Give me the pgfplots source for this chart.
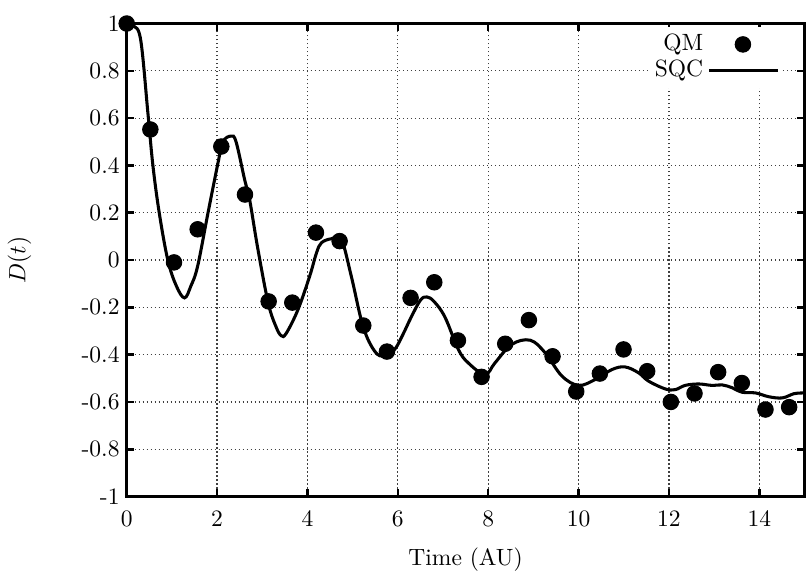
\documentclass[border=0pt]{standalone}
\usepackage{pgfplots}
\pgfplotsset{compat=1.18}
\begin{document}
\begin{tikzpicture}
\begin{axis}[
  scale only axis,
  width=288pt, height=201pt,
  clip=false,
  xmin=0, xmax=15, ymin=-1, ymax=1,
  xtick={0,2,4,6,8,10,12,14},
  ytick={-1,-0.8,-0.6,-0.4,-0.2,0,0.2,0.4,0.6,0.8,1},
  yticklabels={-1,-0.8,-0.6,-0.4,-0.2,0,0.2,0.4,0.6,0.8,1},
  xticklabels={0,2,4,6,8,10,12,14},
  tick align=inside,
  xtick pos=both, ytick pos=both,
  major tick length=3pt,
  tick style={black, line width=1.1pt},
  axis line style={line width=1.2pt},
  grid=major,
  grid style={black!75, line width=0.5pt, dash pattern=on 0.5pt off 1.2pt},
  xticklabel style={yshift=-2.5pt},
  yticklabel style={xshift=0.5pt},
  xlabel={Time (AU)},
  ylabel={$D(t)$},
  xlabel style={at={(axis description cs:0.5,-0.133)}, anchor=center},
  ylabel style={at={(axis description cs:-0.158,0.5)}, anchor=center},
  legend cell align=right,
  legend plot pos=right,
  legend style={at={(rel axis cs:0.967,0.993)}, anchor=north east, draw=none, fill=white, row sep=-1.5pt, inner sep=1pt},
]
\path ([yshift=10pt]rel axis cs:0,1);
\addplot[only marks, mark=*, mark size=3.3pt, black,
  legend image code/.code={\fill[black] (0.5cm,0cm) circle (3.3pt);}]
coordinates {
(0.0000,1.000) (0.5236,0.552) (1.0472,-0.010) (1.5708,0.130) (2.0944,0.480)
(2.6180,0.277) (3.1416,-0.175) (3.6652,-0.180) (4.1888,0.116) (4.7124,0.080)
(5.2360,-0.277) (5.7596,-0.387) (6.2832,-0.160) (6.8068,-0.094) (7.3304,-0.340)
(7.8540,-0.494) (8.3776,-0.354) (8.9012,-0.254) (9.4248,-0.407) (9.9484,-0.556)
(10.4720,-0.480) (10.9956,-0.378) (11.5192,-0.470) (12.0428,-0.600) (12.5664,-0.564)
(13.0900,-0.474) (13.6136,-0.520) (14.1372,-0.632) (14.6608,-0.622)
};
\addlegendentry{QM}
\addplot[black, line width=1.3pt, smooth, tension=0.6,
  legend image code/.code={\draw[black, line width=1.3pt] (0cm,0cm) -- (1.02cm,0cm);}]
coordinates {
(0.00,1.000) (0.15,0.990) (0.31,0.930) (0.47,0.620) (0.58,0.400) (0.72,0.200)
(0.91,0.000) (1.10,-0.110) (1.28,-0.160) (1.42,-0.110) (1.57,-0.026) (1.80,0.200)
(2.02,0.410) (2.13,0.500) (2.31,0.524) (2.42,0.500) (2.61,0.340) (2.72,0.256)
(2.90,0.050) (3.13,-0.180) (3.30,-0.280) (3.42,-0.320) (3.53,-0.310) (3.79,-0.210)
(4.05,-0.068) (4.20,0.030) (4.31,0.073) (4.53,0.090) (4.75,0.087) (4.97,-0.068)
(5.23,-0.280) (5.49,-0.386) (5.71,-0.407) (5.93,-0.378) (6.10,-0.320) (6.30,-0.240)
(6.50,-0.170) (6.64,-0.156) (6.80,-0.175) (7.04,-0.240) (7.34,-0.378) (7.56,-0.435)
(7.93,-0.484) (8.15,-0.435) (8.52,-0.357) (8.93,-0.339) (9.26,-0.392) (9.63,-0.490)
(10.00,-0.530) (10.37,-0.505) (10.74,-0.463) (11.03,-0.452) (11.33,-0.477) (11.55,-0.512)
(11.92,-0.545) (12.14,-0.548) (12.36,-0.530) (12.66,-0.524) (12.95,-0.530) (13.18,-0.528)
(13.40,-0.540) (13.62,-0.559) (13.92,-0.562) (14.21,-0.578) (14.51,-0.583) (14.77,-0.565)
(15.00,-0.562)
};
\addlegendentry{SQC}
\end{axis}
\end{tikzpicture}
\end{document}
